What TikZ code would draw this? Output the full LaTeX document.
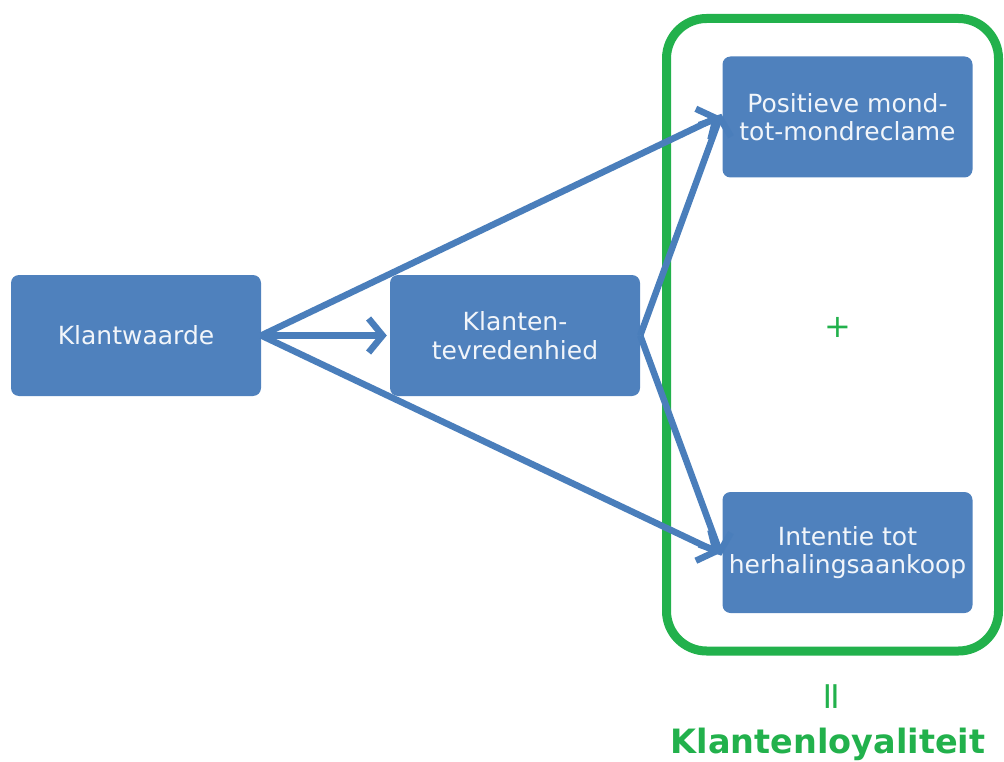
\documentclass[tikz,border=0pt]{standalone}
\usepackage{fontspec}
\setmainfont{DejaVu Sans}
\usetikzlibrary{arrows.meta}
\definecolor{boxblue}{HTML}{4F81BD}
\definecolor{linkblue}{HTML}{4A7EBB}
\definecolor{loyalgreen}{HTML}{22B14C}
\tikzset{
  stage/.style={fill=boxblue, rounded corners=8pt, minimum width=250pt, minimum height=121pt,
    text=white!92!boxblue, align=center, inner sep=0pt, font=\fontsize{25}{28.5}\selectfont},
  link/.style={draw=linkblue, line width=6.5pt, -{Straight Barb[length=14pt,width=34pt]}, shorten >=3pt}
}
\begin{document}
\begin{tikzpicture}[x=1pt,y=-1pt]
\useasboundingbox (0,0) rectangle (1004,762);
% loyalty frame
\draw[loyalgreen, line width=9pt, rounded corners=40pt] (666.5,18.5) rectangle (998.5,651);
% stages
\node[stage] (waarde) at (136,335.5) {Klantwaarde};
\node[stage] (tevr) at (515,335.5) {Klanten-\\tevredenhied};
\node[stage] (mond) at (847.5,117) {Positieve mond-\\tot-mondreclame};
\node[stage] (herh) at (847.5,552.5) {Intentie tot\\herhalingsaankoop};
% links
\draw[link] (waarde.east) -- (tevr.west);
\draw[link] (waarde.east) -- ([yshift=2pt]mond.west);
\draw[link] (waarde.east) -- ([yshift=-2pt]herh.west);
\draw[link] (tevr.east) -- ([yshift=6pt]mond.west);
\draw[link] (tevr.east) -- ([yshift=-6pt]herh.west);
% labels
\node[text=loyalgreen, font=\fontsize{32}{36}\selectfont] (plus) at (838,327) {+};
\node[text=loyalgreen, font=\fontsize{38}{42}\selectfont, rotate=90] (eq) at (835,697) {=};
\node[text=loyalgreen, font=\bfseries\fontsize{33.5}{38}\selectfont] (loyal) at (828,744) {Klantenloyaliteit};
\end{tikzpicture}
\end{document}
